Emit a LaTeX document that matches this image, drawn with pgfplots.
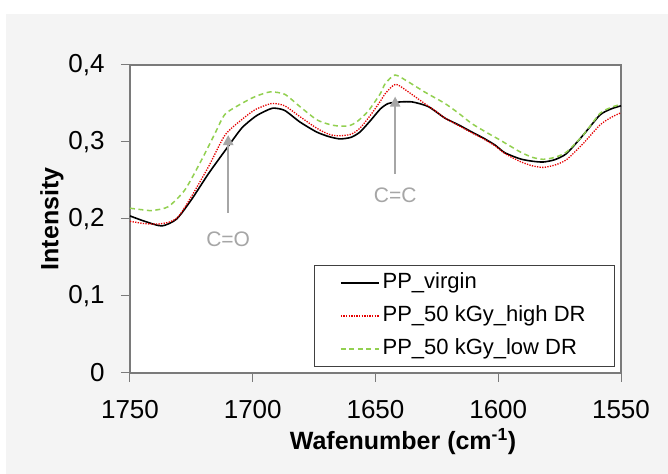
\documentclass[border=0pt]{standalone}
\usepackage{fontspec}
\setmainfont{Liberation Sans}
\usepackage{pgfplots}
\pgfplotsset{compat=1.18}
\usetikzlibrary{arrows.meta}
\definecolor{bggray}{RGB}{244,244,244}
\definecolor{axgray}{RGB}{122,122,122}
\definecolor{leggray}{RGB}{64,64,64}
\definecolor{annot}{RGB}{166,166,166}
\definecolor{myred}{RGB}{230,0,0}
\definecolor{mygreen}{RGB}{146,208,80}
\begin{document}
\begin{tikzpicture}[x=1bp,y=1bp]
\useasboundingbox (-130,-101) rectangle (538,373);
\fill[white] (-130,-101) rectangle (538,373);
\fill[bggray] (-124,-101) rectangle (538,359);
\begin{axis}[
  at={(0,0)}, anchor=south west,
  scale only axis, width=491bp, height=308bp,
  x dir=reverse, xmin=1550, xmax=1750, ymin=0, ymax=0.4,
  xtick={1550,1600,1650,1700,1750},
  xticklabels={1550,1600,1650,1700,1750},
  ytick={0,0.1,0.2,0.3,0.4},
  yticklabels={0,{0,1},{0,2},{0,3},{0,4}},
  tick align=outside, xtick pos=bottom, ytick pos=left,
  major tick length=9bp,
  tick style={draw=axgray, line width=1bp},
  axis line style={draw=axgray, line width=1.5bp},
  axis background/.style={fill=white},
  ticklabel style={font=\fontsize{26bp}{30bp}\selectfont},
  xticklabel style={yshift=-15bp, text depth=0pt},
  yticklabel style={xshift=-13bp},
  xlabel={\textbf{Wafenumber (cm\textsuperscript{-1})}},
  ylabel={\textbf{Intensity}},
  label style={font=\fontsize{25bp}{30bp}\selectfont},
  xlabel style={at={(axis description cs:0.556,0)}, anchor=center, yshift=-69bp},
  ylabel style={at={(axis description cs:0,0.5)}, anchor=center, yshift=78bp},
  legend style={at={(axis description cs:0.988,0.3506)}, anchor=north east,
    draw=leggray, line width=1bp, fill=white,
    font=\fontsize{22bp}{26bp}\selectfont,
    inner xsep=26bp, inner ysep=1bp, row sep=0bp,
    nodes={inner ysep=6bp, inner xsep=3bp, text height=16bp, text depth=5bp}},
  legend cell align=left,
  legend image code/.code={\draw[#1] (0bp,0bp) -- (38bp,0bp);},
]
\addplot[black, line width=1.6bp, smooth, tension=0.4] coordinates {
(1750,0.204) (1744,0.197) (1737,0.191) (1731,0.200) (1725,0.225) (1718,0.259)
(1711,0.290) (1704.5,0.318) (1699,0.333) (1695,0.340) (1691.6,0.344) (1687,0.341)
(1680.8,0.326) (1674,0.313) (1669,0.307) (1664.5,0.304) (1660,0.306) (1656.3,0.313)
(1652,0.328) (1648,0.343) (1644.8,0.350) (1640,0.352) (1635,0.352) (1628.5,0.346)
(1621.7,0.331) (1616,0.322) (1610.8,0.313) (1606,0.305) (1601.3,0.296) (1597.3,0.286)
(1591,0.278) (1586,0.275) (1581.7,0.274) (1577,0.277) (1572.2,0.285) (1565.4,0.309)
(1558.6,0.335) (1554,0.343) (1550,0.347)};
\addlegendentry{PP\_virgin}
\addplot[myred, line width=1.3bp, dash pattern=on 1.3bp off 1.3bp, smooth, tension=0.4] coordinates {
(1750,0.197) (1744,0.194) (1738.5,0.1935) (1734,0.196) (1730.3,0.203) (1725,0.229)
(1718,0.268) (1711.3,0.309) (1704.5,0.329) (1699,0.342) (1692.3,0.350) (1687,0.347)
(1680.8,0.333) (1674,0.318) (1669,0.310) (1665,0.308) (1660,0.310) (1656.3,0.318)
(1652,0.335) (1648,0.353) (1646,0.363) (1641.8,0.375) (1636.6,0.365) (1630,0.350)
(1625,0.339) (1621.7,0.331) (1616,0.321) (1610.8,0.312) (1606,0.304) (1601.3,0.295)
(1597.3,0.285) (1591,0.2745) (1586,0.269) (1581.7,0.267) (1577,0.270) (1572.2,0.277)
(1565.4,0.298) (1558.6,0.322) (1554,0.332) (1550,0.338)};
\addlegendentry{PP\_50 kGy\_high DR}
\addplot[mygreen, line width=1.5bp, dash pattern=on 5bp off 3.5bp, smooth, tension=0.4] coordinates {
(1750,0.214) (1745,0.212) (1741,0.211) (1734.4,0.216) (1727.6,0.238) (1720.8,0.277)
(1715.4,0.311) (1711.3,0.336) (1704.5,0.350) (1699,0.359) (1693,0.365) (1687,0.362)
(1680.8,0.346) (1674,0.329) (1669,0.323) (1665.8,0.321) (1661,0.321) (1657.7,0.326)
(1653,0.340) (1648,0.363) (1646,0.376) (1642,0.387) (1636.6,0.378) (1630,0.365)
(1621.7,0.350) (1616,0.337) (1610.8,0.324) (1604,0.311) (1599.3,0.3026) (1591,0.287)
(1586,0.280) (1581.7,0.2775) (1577,0.280) (1572.2,0.287) (1565.4,0.309) (1558.6,0.337)
(1554,0.345) (1550,0.349)};
\addlegendentry{PP\_50 kGy\_low DR}
\draw[annot, line width=2.3bp, -{Triangle[length=10bp,width=10bp]}] (axis cs:1710,0.208) -- (axis cs:1710,0.309);
\draw[annot, line width=2.3bp, -{Triangle[length=10bp,width=10bp]}] (axis cs:1642,0.259) -- (axis cs:1642,0.359);
\node[annot, font=\fontsize{21bp}{25bp}\selectfont] at (axis cs:1710,0.174) {C=O};
\node[annot, font=\fontsize{21bp}{25bp}\selectfont] at (axis cs:1642,0.231) {C=C};
\end{axis}
\end{tikzpicture}
\end{document}
